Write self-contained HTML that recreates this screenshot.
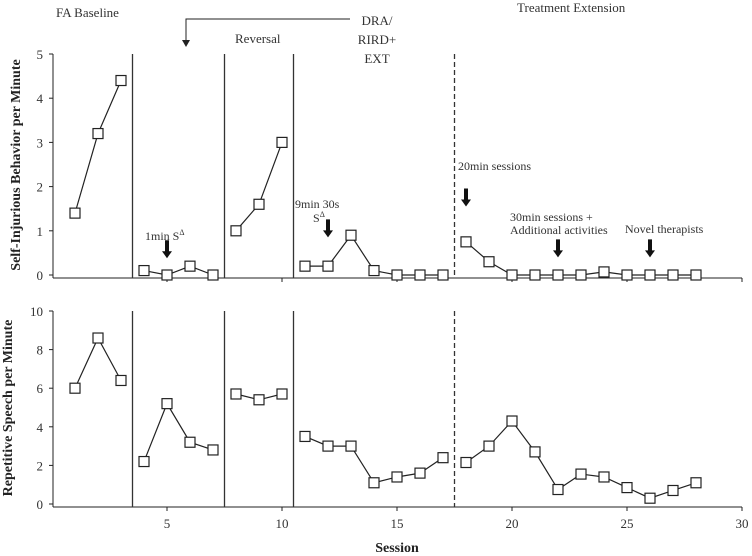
<!DOCTYPE html>
<html><head><meta charset="utf-8"><style>
html,body{margin:0;padding:0;background:#fff;overflow:hidden;width:752px;height:556px}
svg{display:block;font-family:"Liberation Serif",serif}
</style></head><body>
<svg id="chart" width="752" height="556" viewBox="0 0 752 556">
<g id="annot" font-size="13" fill="#333">
 <text x="56" y="17">FA Baseline</text>
 <text x="235" y="43">Reversal</text>
 <text x="377" y="25" text-anchor="middle">DRA/</text>
 <text x="377" y="44" text-anchor="middle">RIRD+</text>
 <text x="377" y="63" text-anchor="middle">EXT</text>
 <text x="517" y="12">Treatment Extension</text>
 <path d="M350 19 H186 V42" fill="none" stroke="#222" stroke-width="1"/>
 <path d="M182 40 L190 40 L186 47 Z" fill="#222"/>
 <text x="145" y="240" font-size="12">1min S<tspan font-size="8" dy="-5">Δ</tspan></text>
 <text x="295" y="208" font-size="12">9min 30s</text>
 <text x="313" y="222" font-size="12">S<tspan font-size="8" dy="-5">Δ</tspan></text>
 <text x="458" y="170" font-size="12">20min sessions</text>
 <text x="510" y="221" font-size="12">30min sessions +</text>
 <text x="510" y="234" font-size="12">Additional activities</text>
 <text x="625" y="233" font-size="12">Novel therapists</text>
</g>
<g id="plots"></g>
<text transform="translate(20,165) rotate(-90)" text-anchor="middle" font-size="14" font-weight="bold" fill="#222">Self-Injurious Behavior per Minute</text>
<text transform="translate(12,408) rotate(-90)" text-anchor="middle" font-size="14" font-weight="bold" fill="#222">Repetitive Speech per Minute</text>
<text x="397" y="552" text-anchor="middle" font-size="14" font-weight="bold" fill="#222">Session</text>
</svg>
<script>
const sessions = [1,2,3,4,5,6,7,8,9,10,11,12,13,14,15,16,17,18,19,20,21,22,23,24,25,26,27,28];
const phaseBreaks = [3,7,10,17];
const sibValues = [1.4,3.2,4.4, 0.1,0,0.2,0, 1.0,1.6,3.0, 0.2,0.2,0.9,0.1,0,0,0, 0.75,0.3,0,0,0,0,0.07,0,0,0,0];
const speechValues = [6,8.6,6.4, 2.2,5.2,3.2,2.8, 5.7,5.4,5.7, 3.5,3,3,1.1,1.4,1.6,2.4, 2.15,3,4.3,2.7,0.75,1.55,1.4,0.85,0.3,0.7,1.1];
const phaseLines = [3.5,7.5,10.5];
const dashedLines = [17.5];
const xTicks = [5,10,15,20,25,30];
const sibTicks = [0,1,2,3,4,5];
const speechTicks = [0,2,4,6,8,10];
const arrowSessionsTop = [5,12,18,22,26];
const arrowValuesTop = [0.38,0.85,1.55,0.4,0.4];

const NS='http://www.w3.org/2000/svg';
const g=document.getElementById('plots');
function el(t,a,p){const e=document.createElementNS(NS,t);for(const k in a)e.setAttribute(k,a[k]);(p||g).appendChild(e);return e;}
const xS=s=>52+s*23;

function panel(name,values,ticks,ymax,yTop,yZero,xTickLabels,arrows){
  const yS=v=>yZero-(v/ymax)*(yZero-yTop);
  const axisY=yZero+3;
  const grp=el('g',{});
  
  
  const ya=el('line',{x1:53,y1:yTop,x2:53,y2:axisY,stroke:'#222','stroke-width':1},grp);
  
  
  const xa=el('line',{x1:53,y1:axisY,x2:xS(30),y2:axisY,stroke:'#222','stroke-width':1},grp);
  
  
  ticks.forEach(t=>{
    const y=yS(t);
    const tl=el('line',{x1:49,y1:y,x2:53,y2:y,stroke:'#222'},grp);
    
    
    const tx=el('text',{x:43,y:y+5,'text-anchor':'end','font-size':13,fill:'#333'},grp);
    tx.textContent=t;
    
    
  });
  xTicks.forEach(t=>{
    const x=xS(t);
    const tl=el('line',{x1:x,y1:axisY,x2:x,y2:axisY+4,stroke:'#222'},grp);
    
    
    if(xTickLabels){
      const tx=el('text',{x:x,y:axisY+21,'text-anchor':'middle','font-size':13,fill:'#333'},grp);
      tx.textContent=t;
      
      
    }
  });
  phaseLines.forEach(p=>{
    const l=el('line',{x1:xS(p),y1:yTop,x2:xS(p),y2:axisY,stroke:'#333','stroke-width':1.3},grp);
    
    
  });
  dashedLines.forEach(p=>{
    const l=el('line',{x1:xS(p),y1:yTop,x2:xS(p),y2:axisY,stroke:'#333','stroke-width':1.3,'stroke-dasharray':'5,3'},grp);
    
    
  });
  let start=0;
  const ends=phaseBreaks.concat([sessions.length]);
  ends.forEach((e,i)=>{
    const pts=[];
    for(let k=start;k<e;k++)pts.push(xS(sessions[k])+','+yS(values[k]));
    const pl=el('polyline',{points:pts.join(' '),fill:'none',stroke:'#222','stroke-width':1.2},grp);
    
    
    start=e;
  });
  sessions.forEach((s,k)=>{
    const r=el('rect',{x:xS(s)-5,y:yS(values[k])-5,width:10,height:10,fill:'#fff',stroke:'#222','stroke-width':1.2},grp);
    
    
  });
  if(arrows){
    arrowSessionsTop.forEach((s,i)=>{
      const x=xS(s),y=yS(arrowValuesTop[i]);
      const a=el('path',{d:`M${x-2} ${y-18} H${x+2} V${y-7} H${x+5} L${x} ${y} L${x-5} ${y-7} H${x-2} Z`,fill:'#111'},grp);
      
      
    });
  }
}
panel('top',sibValues,sibTicks,5,54,275,false,true);
panel('bottom',speechValues,speechTicks,10,311,504,true,false);
</script>
</body></html>
